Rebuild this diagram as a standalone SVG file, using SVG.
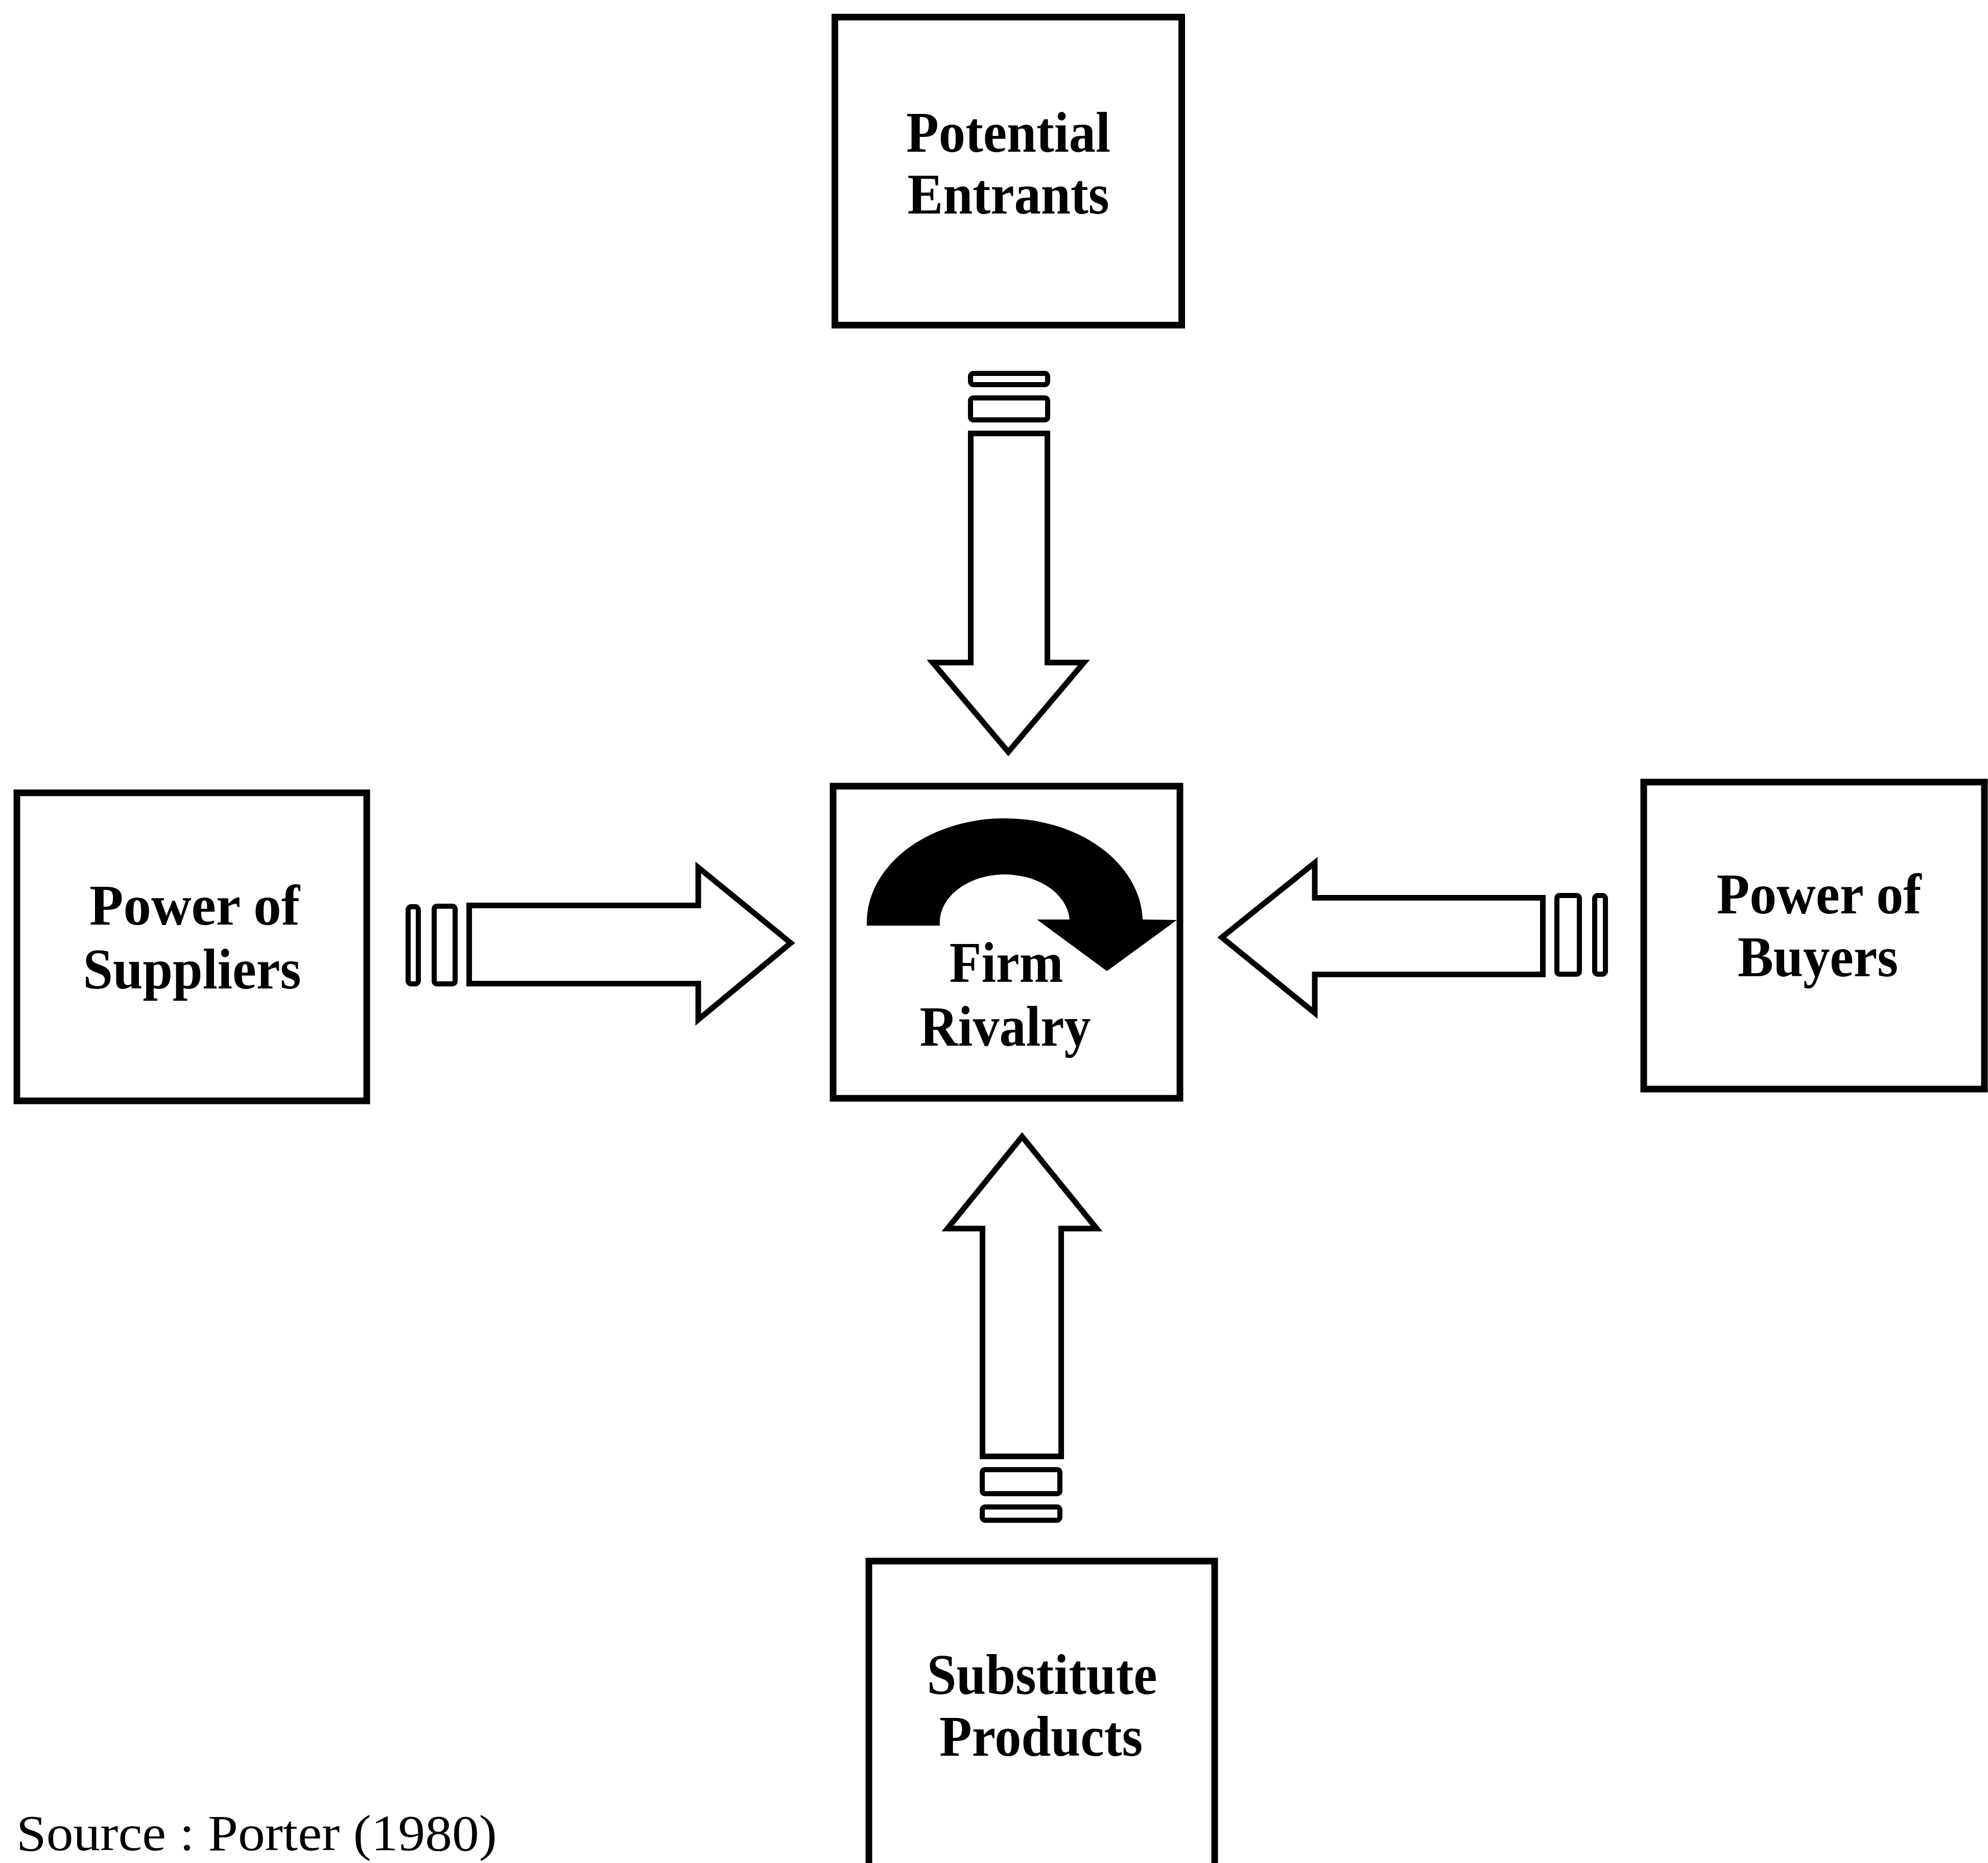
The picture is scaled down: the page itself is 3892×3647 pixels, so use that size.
<svg xmlns="http://www.w3.org/2000/svg" width="3892" height="3647" viewBox="0 0 3892 3647">
  <style>
    .box { fill: #fff; stroke: #000; stroke-width: 13; }
    .lbl { font-family: "Liberation Serif", "Times New Roman", serif; font-weight: bold; font-size: 112px; fill: #000; text-anchor: middle; }
    .src { font-family: "Liberation Serif", "Times New Roman", serif; font-size: 100px; fill: #000; }
    .arrow { fill: #fff; stroke: #000; stroke-width: 11; stroke-linejoin: miter; }
    .bar { fill: #fff; stroke: #000; stroke-width: 10; }
  </style>
  <rect width="3892" height="3647" fill="#fff"/>

  <!-- block arrows pointing at the central box -->
  <g id="connectors">
    <!-- from Potential Entrants (down) -->
    <g id="arrow-entrants">
      <rect class="bar" x="1900" y="731" width="151" height="22" rx="6"/>
      <rect class="bar" x="1900" y="779" width="151" height="43" rx="5"/>
      <path class="arrow" d="M1900.5 848.5 H2050.5 V1297 H2122 L1974 1472 L1826 1297 H1900.5 Z"/>
    </g>
    <!-- from Substitute Products (up) -->
    <g id="arrow-substitutes">
      <path class="arrow" d="M1923.5 2851 V2405 H1855 L2001 2225 L2147 2405 H2077.5 V2851 Z"/>
      <rect class="bar" x="1923" y="2877" width="152" height="47" rx="5"/>
      <rect class="bar" x="1923" y="2950" width="152" height="26" rx="6"/>
    </g>
    <!-- from Power of Suppliers (right) -->
    <g id="arrow-suppliers">
      <rect class="bar" x="799" y="1775" width="20" height="151" rx="6"/>
      <rect class="bar" x="850" y="1774" width="41" height="152" rx="5"/>
      <path class="arrow" d="M918.5 1772.5 H1367 V1698 L1548 1846 L1367 1996 V1925.5 H918.5 Z"/>
    </g>
    <!-- from Power of Buyers (left) -->
    <g id="arrow-buyers">
      <path class="arrow" d="M3020.5 1757.5 V1907.5 H2574 V1983 L2392 1835 L2574 1689 V1757.5 Z"/>
      <rect class="bar" x="3048" y="1753" width="44" height="154" rx="5"/>
      <rect class="bar" x="3122" y="1753" width="21" height="154" rx="6"/>
    </g>
  </g>

  <g id="node-entrants">
    <rect class="box" x="1634.5" y="33.5" width="679" height="603"/>
    <text class="lbl" x="1974" y="297" textLength="400" lengthAdjust="spacingAndGlyphs">Potential</text>
    <text class="lbl" x="1974" y="418" textLength="395" lengthAdjust="spacingAndGlyphs">Entrants</text>
  </g>

  <g id="node-rivalry">
    <rect class="box" x="1631" y="1539" width="679" height="611"/>
    <!-- curved rivalry arrow -->
    <path d="M1697 1812 A270 204 0 0 1 2237 1800 L2304 1801 L2167 1901 L2030 1800 L2094 1800 A127 94 0 0 0 1840 1812 Z" fill="#000"/>
    <text class="lbl" x="1970" y="1922" textLength="223" lengthAdjust="spacingAndGlyphs">Firm</text>
    <text class="lbl" x="1968" y="2047" textLength="335" lengthAdjust="spacingAndGlyphs">Rivalry</text>
  </g>

  <g id="node-suppliers">
    <rect class="box" x="33" y="1552" width="685" height="603"/>
    <text class="lbl" x="381" y="1810" textLength="412" lengthAdjust="spacingAndGlyphs">Power of</text>
    <text class="lbl" x="376" y="1935" textLength="427" lengthAdjust="spacingAndGlyphs">Suppliers</text>
  </g>

  <g id="node-buyers">
    <rect class="box" x="3218" y="1531" width="667" height="601"/>
    <text class="lbl" x="3561" y="1788" textLength="401" lengthAdjust="spacingAndGlyphs">Power of</text>
    <text class="lbl" x="3559" y="1911" textLength="314" lengthAdjust="spacingAndGlyphs">Buyers</text>
  </g>

  <g id="node-substitutes">
    <rect class="box" x="1701" y="3056" width="677" height="700"/>
    <text class="lbl" x="2040" y="3316" textLength="451" lengthAdjust="spacingAndGlyphs">Substitute</text>
    <text class="lbl" x="2038" y="3437" textLength="398" lengthAdjust="spacingAndGlyphs">Products</text>
  </g>

  <text class="src" x="32" y="3622" textLength="941" lengthAdjust="spacingAndGlyphs">Source : Porter (1980)</text>
</svg>
